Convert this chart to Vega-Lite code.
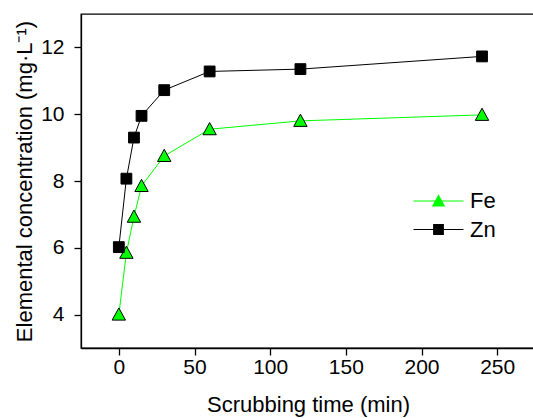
{
  "$schema": "https://vega.github.io/schema/vega-lite/v6.json",
  "width": 454,
  "height": 334,
  "autosize": {"type": "none"},
  "padding": {"left": 81, "top": 14, "right": 0, "bottom": 70},
  "config": {
    "font": "Liberation Sans",
    "view": {"stroke": "black", "strokeWidth": 1.3},
    "axis": {
      "grid": false,
      "domainColor": "black",
      "domainWidth": 1.3,
      "tickColor": "black",
      "tickWidth": 1.3,
      "tickSize": 7,
      "labelColor": "black",
      "labelFontSize": 21,
      "titleColor": "black",
      "titleFontSize": 22,
      "titleFontWeight": "normal"
    },
    "legend": {
      "labelFontSize": 22,
      "labelColor": "black",
      "padding": 0
    }
  },
  "data": {
    "values": [
      {"series": "Fe", "time": 0, "conc": 4.0},
      {"series": "Fe", "time": 5, "conc": 5.85},
      {"series": "Fe", "time": 10, "conc": 6.93},
      {"series": "Fe", "time": 15, "conc": 7.85},
      {"series": "Fe", "time": 30, "conc": 8.75},
      {"series": "Fe", "time": 60, "conc": 9.55},
      {"series": "Fe", "time": 120, "conc": 9.8},
      {"series": "Fe", "time": 240, "conc": 9.98},
      {"series": "Zn", "time": 0, "conc": 6.02},
      {"series": "Zn", "time": 5, "conc": 8.07},
      {"series": "Zn", "time": 10, "conc": 9.3},
      {"series": "Zn", "time": 15, "conc": 9.95},
      {"series": "Zn", "time": 30, "conc": 10.72},
      {"series": "Zn", "time": 60, "conc": 11.28},
      {"series": "Zn", "time": 120, "conc": 11.35},
      {"series": "Zn", "time": 240, "conc": 11.73}
    ]
  },
  "encoding": {
    "x": {
      "field": "time",
      "type": "quantitative",
      "scale": {"domain": [-25, 275], "nice": false, "zero": false},
      "axis": {"values": [0, 50, 100, 150, 200, 250], "title": "Scrubbing time (min)", "labelPadding": 1, "titlePadding": 17}
    },
    "y": {
      "field": "conc",
      "type": "quantitative",
      "scale": {"domain": [3, 13], "nice": false, "zero": false},
      "axis": {"values": [4, 6, 8, 10, 12], "title": "Elemental concentration (mg·L⁻¹)", "labelPadding": 10, "titlePadding": 4}
    }
  },
  "layer": [
    {
      "mark": {"type": "line", "strokeWidth": 1},
      "encoding": {
        "stroke": {
          "field": "series",
          "type": "nominal",
          "scale": {"domain": ["Fe", "Zn"], "range": ["#00ff00", "#000000"]},
          "legend": {
            "title": null,
            "orient": "none",
            "legendX": 332,
            "legendY": 176,
            "symbolType": "stroke",
            "symbolSize": 2500,
            "symbolStrokeWidth": 1,
            "clipHeight": 22,
            "rowPadding": 6.5,
            "labelOffset": 6
          }
        }
      }
    },
    {
      "mark": {"type": "point", "filled": true, "stroke": "black", "strokeWidth": 1, "size": 135, "opacity": 1},
      "encoding": {
        "fill": {
          "field": "series",
          "type": "nominal",
          "scale": {"range": ["#00ff00", "#000000"]},
          "legend": {
            "title": null,
            "orient": "none",
            "legendX": 351,
            "legendY": 176,
            "symbolSize": 135,
            "symbolStrokeColor": "black",
            "symbolStrokeWidth": 1,
            "clipHeight": 22,
            "rowPadding": 6.5,
            "labelOpacity": 0,
            "labelFontSize": 1
          }
        },
        "shape": {
          "field": "series",
          "type": "nominal",
          "scale": {"range": ["M0,-1.15L1.15,0.95L-1.15,0.95Z", "M-0.93,-0.93H0.93V0.93H-0.93Z"]},
          "legend": {
            "title": null,
            "orient": "none",
            "legendX": 351,
            "legendY": 176,
            "symbolSize": 135,
            "symbolStrokeColor": "black",
            "symbolStrokeWidth": 1,
            "clipHeight": 22,
            "rowPadding": 6.5,
            "labelOpacity": 0,
            "labelFontSize": 1
          }
        }
      }
    }
  ]
}
